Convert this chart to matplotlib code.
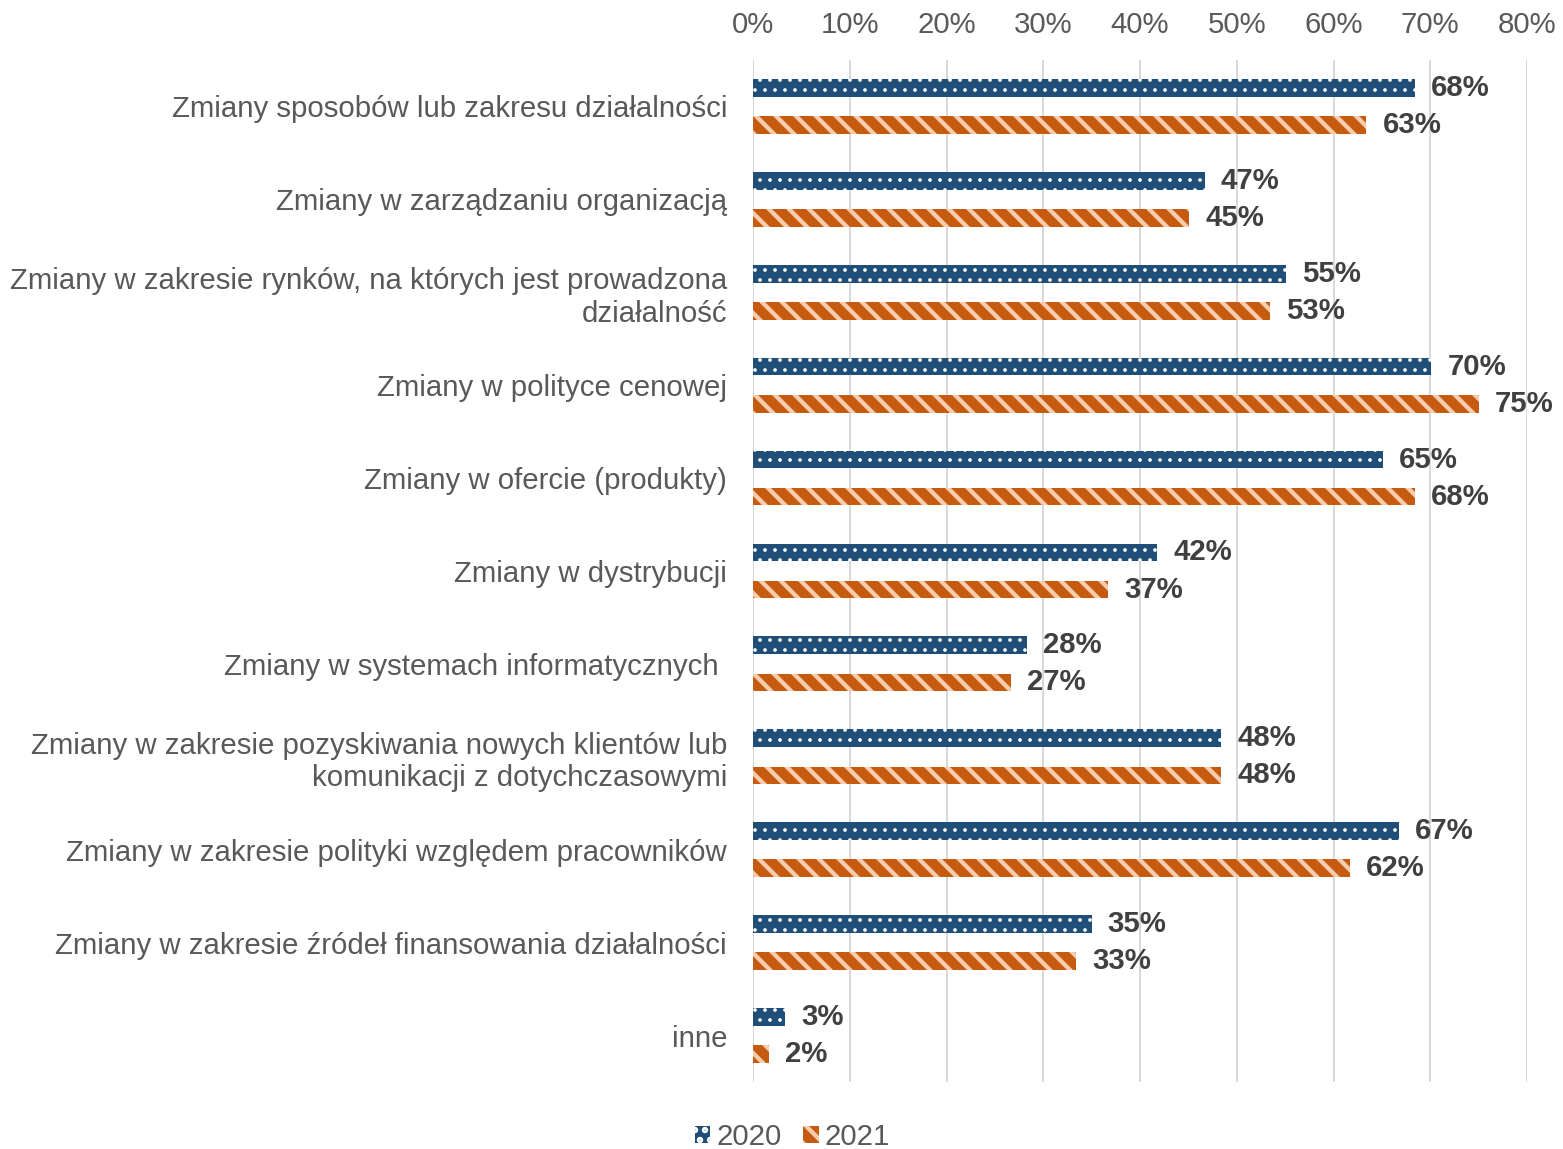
import matplotlib.pyplot as plt
import matplotlib as mpl
import numpy as np

categories = [
    'Zmiany sposobów lub zakresu działalności',
    'Zmiany w zarządzaniu organizacją',
    'Zmiany w zakresie rynków, na których jest prowadzona\ndziałalność',
    'Zmiany w polityce cenowej',
    'Zmiany w ofercie (produkty)',
    'Zmiany w dystrybucji',
    'Zmiany w systemach informatycznych ',
    'Zmiany w zakresie pozyskiwania nowych klientów lub\nkomunikacji z dotychczasowymi',
    'Zmiany w zakresie polityki względem pracowników',
    'Zmiany w zakresie źródeł finansowania działalności',
    'inne',
]
values_2020 = [68.4, 46.7, 55.1, 70.1, 65.1, 41.8, 28.3, 48.4, 66.8, 35.0, 3.3]
values_2021 = [63.4, 45.1, 53.4, 75.0, 68.4, 36.7, 26.7, 48.4, 61.7, 33.4, 1.65]
xticks = [0, 10, 20, 30, 40, 50, 60, 70, 80]

mpl.rcParams['font.family'] = ['Liberation Sans', 'DejaVu Sans']

DPI = 120
fs = 17.6
fig = plt.figure(figsize=(1563 / DPI, 1149 / DPI), dpi=DPI)
ax = fig.add_axes([0.4818, 0.0583, 0.4952, 0.8895])

y = np.arange(len(categories))
h = 0.19
off = 0.2

# dotted 2020 bars
mpl.rcParams['hatch.linewidth'] = 1.0
b1 = ax.barh(y - off, values_2020, height=h, color='#1F4E79', edgecolor='white',
             hatch='..', lw=0, label='2020', zorder=3)
# striped 2021 bars
mpl.rcParams['hatch.linewidth'] = 2.6
b2 = ax.barh(y + off, values_2021, height=h, color='#C55A11', edgecolor='#F8CBAD',
             hatch='\\\\', lw=0, label='2021', zorder=3)
for p in b1:
    p._hatch_linewidth = 1.0
for p in b2:
    p._hatch_linewidth = 2.6

for bars, vals in [(b1, values_2020), (b2, values_2021)]:
    for bar, v in zip(bars, vals):
        ax.annotate(f'{round(v):d}%', (v, bar.get_y() + bar.get_height() / 2),
                    xytext=(9.6, 0), textcoords='offset points',
                    ha='left', va='center', fontsize=fs, fontweight='bold',
                    color='#404040')

ax.set_xlim(0, 80)
ax.set_ylim(len(categories) - 0.5, -0.5)
ax.set_xticks(xticks)
ax.set_xticklabels([f'{t}%' for t in xticks])
ax.xaxis.tick_top()
ax.set_yticks(y)
ax.set_yticklabels(categories, multialignment='right')
ax.tick_params(axis='x', length=0, pad=12.5, labelsize=fs, colors='#595959')
ax.tick_params(axis='y', length=0, pad=15.6, labelsize=fs, colors='#595959')
ax.grid(axis='x', color='#D9D9D9', lw=1.2, zorder=0)
for s in ax.spines.values():
    s.set_visible(False)

fig.legend([b1, b2], ['2020', '2021'], loc='center', bbox_to_anchor=(0.507, 0.0104),
           ncol=2, frameon=False, fontsize=fs, handlelength=0.52, handleheight=0.52,
           handletextpad=0.2, columnspacing=0.75, labelcolor='#595959',
           borderpad=0, borderaxespad=0)

fig.savefig('out.png', dpi=DPI)
